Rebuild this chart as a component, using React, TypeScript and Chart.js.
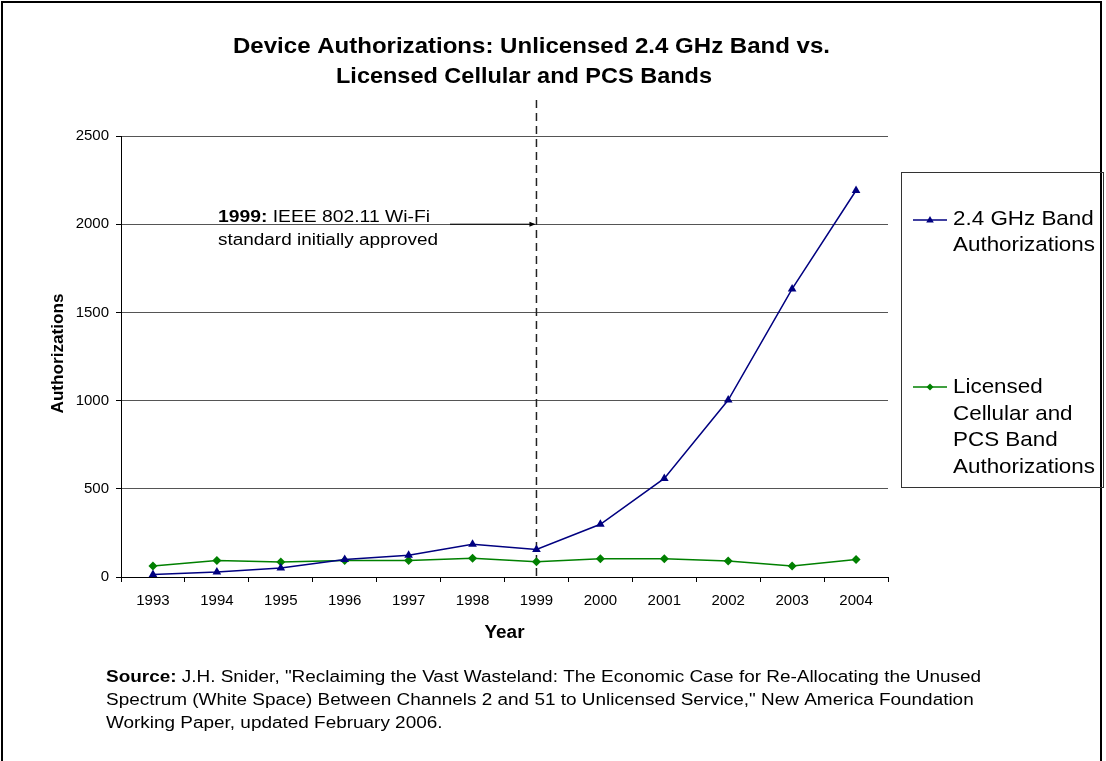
import React, { useEffect, useRef } from "react";
import { Chart, registerables } from "chart.js";

Chart.register(...registerables);

const FONT = "'Liberation Sans', Arial, Helvetica, sans-serif";

const years = ["1993", "1994", "1995", "1996", "1997", "1998", "1999", "2000", "2001", "2002", "2003", "2004"];
const wifiAuthorizations = [14, 28, 51, 99, 123, 186, 156, 299, 559, 1003, 1633, 2191];
const cellularAuthorizations = [62, 93, 85, 93, 93, 106, 87, 104, 104, 91, 62, 99];
const wifiLegendLines = ["2.4 GHz Band", "Authorizations"];
const cellularLegendLines = ["Licensed", "Cellular and", "PCS Band", "Authorizations"];
const titleLines = ["Device Authorizations: Unlicensed 2.4 GHz Band vs.", "Licensed Cellular and PCS Bands"];
const yAxisTitle = "Authorizations";
const xAxisTitle = "Year";
const yMax = 2500;
const yStep = 500;
const markerYear = "1999";
const annotationBold = "1999:";
const annotationLines = [" IEEE 802.11 Wi-Fi", "standard initially approved"];
const sourceBold = "Source:";
const sourceLines = [
  " J.H. Snider, \"Reclaiming the Vast Wasteland: The Economic Case for Re-Allocating the Unused",
  "Spectrum (White Space) Between Channels 2 and 51 to Unlicensed Service,\" New America Foundation",
  "Working Paper, updated February 2006.",
];

const BLUE = "#000080";
const GREEN = "#008000";

type Part = { text: string; bold?: boolean };

function measureParts(ctx: CanvasRenderingContext2D, parts: Part[], size: number) {
  let w = 0;
  for (const p of parts) {
    ctx.font = `${p.bold ? "bold " : ""}${size}px ${FONT}`;
    w += ctx.measureText(p.text).width;
  }
  return w;
}

function drawFitted(
  ctx: CanvasRenderingContext2D,
  parts: Part[],
  x: number,
  y: number,
  size: number,
  sx: number,
  align: "left" | "center" = "left"
) {
  const natural = measureParts(ctx, parts, size);
  const w = natural * sx;
  const x0 = align === "left" ? x : x - w / 2;
  ctx.save();
  ctx.translate(x0, y);
  ctx.scale(sx, 1);
  ctx.textAlign = "left";
  ctx.textBaseline = "alphabetic";
  ctx.fillStyle = "#000";
  let cx = 0;
  for (const p of parts) {
    ctx.font = `${p.bold ? "bold " : ""}${size}px ${FONT}`;
    ctx.fillText(p.text, cx, 0);
    cx += ctx.measureText(p.text).width;
  }
  ctx.restore();
}

function fitScale(ctx: CanvasRenderingContext2D, parts: Part[], size: number, target: number) {
  return target / measureParts(ctx, parts, size);
}

function drawTriangle(ctx: CanvasRenderingContext2D, x: number, y: number, r: number, color: string) {
  ctx.beginPath();
  ctx.moveTo(x, y - r);
  ctx.lineTo(x + r * 0.95, y + r * 0.6);
  ctx.lineTo(x - r * 0.95, y + r * 0.6);
  ctx.closePath();
  ctx.fillStyle = color;
  ctx.fill();
}

function drawDiamond(ctx: CanvasRenderingContext2D, x: number, y: number, r: number, color: string) {
  ctx.beginPath();
  ctx.moveTo(x, y - r);
  ctx.lineTo(x + r, y);
  ctx.lineTo(x, y + r);
  ctx.lineTo(x - r, y);
  ctx.closePath();
  ctx.fillStyle = color;
  ctx.fill();
}

const decorPlugin = {
  id: "decor",
  beforeDatasetsDraw(chart: any) {
    const ctx: CanvasRenderingContext2D = chart.ctx;
    const xs = chart.scales.x;
    const area = chart.chartArea;
    const px = xs.getPixelForValue(years.indexOf(markerYear));
    ctx.save();
    ctx.strokeStyle = "#222";
    ctx.lineWidth = 1.5;
    ctx.setLineDash([8, 5]);
    ctx.beginPath();
    ctx.moveTo(px, 100);
    ctx.lineTo(px, area.bottom);
    ctx.stroke();
    ctx.restore();
  },
  afterDraw(chart: any) {
    const ctx: CanvasRenderingContext2D = chart.ctx;
    const xs = chart.scales.x;
    const ys = chart.scales.y;
    const area = chart.chartArea;
    ctx.save();

    // outer frame
    ctx.strokeStyle = "#000";
    ctx.lineWidth = 2;
    ctx.strokeRect(2, 2, 1099, 820);

    // title
    const t1: Part[] = [{ text: titleLines[0], bold: true }];
    const t2: Part[] = [{ text: titleLines[1], bold: true }];
    drawFitted(ctx, t1, 531.5, 53, 22, fitScale(ctx, t1, 22, 597), "center");
    drawFitted(ctx, t2, 524, 83, 22, fitScale(ctx, t2, 22, 376), "center");

    // y axis title
    const ya: Part[] = [{ text: yAxisTitle, bold: true }];
    ctx.save();
    ctx.translate(63, (area.top + area.bottom) / 2 - 3);
    ctx.rotate(-Math.PI / 2);
    drawFitted(ctx, ya, 0, 0, 17, fitScale(ctx, ya, 17, 120), "center");
    ctx.restore();

    // x axis title
    const xa: Part[] = [{ text: xAxisTitle, bold: true }];
    drawFitted(ctx, xa, (area.left + area.right) / 2, 638, 18, fitScale(ctx, xa, 18, 40), "center");

    // legend box
    ctx.strokeStyle = "#333";
    ctx.lineWidth = 1;
    ctx.strokeRect(901.5, 172.5, 202, 315);
    const legSx = fitScale(ctx, [{ text: "Authorizations" }], 21, 142);
    ctx.strokeStyle = BLUE;
    ctx.lineWidth = 1.5;
    ctx.beginPath();
    ctx.moveTo(913, 220);
    ctx.lineTo(947, 220);
    ctx.stroke();
    drawTriangle(ctx, 930, 220, 4, BLUE);
    wifiLegendLines.forEach((l, i) => drawFitted(ctx, [{ text: l }], 953, 225 + i * 26, 21, legSx));
    ctx.strokeStyle = GREEN;
    ctx.beginPath();
    ctx.moveTo(913, 387);
    ctx.lineTo(947, 387);
    ctx.stroke();
    drawDiamond(ctx, 930, 387, 3.5, GREEN);
    cellularLegendLines.forEach((l, i) => drawFitted(ctx, [{ text: l }], 953, 393 + i * 26.7, 21, legSx));

    // annotation
    const a1: Part[] = [{ text: annotationBold, bold: true }, { text: annotationLines[0] }];
    const a2: Part[] = [{ text: annotationLines[1] }];
    drawFitted(ctx, a1, 218, 222, 16, fitScale(ctx, a1, 16, 212));
    drawFitted(ctx, a2, 218, 245, 16, fitScale(ctx, a2, 16, 220));
    const markerX = xs.getPixelForValue(years.indexOf(markerYear));
    const ay = ys.getPixelForValue(2000);
    ctx.strokeStyle = "#000";
    ctx.lineWidth = 1;
    ctx.setLineDash([]);
    ctx.beginPath();
    ctx.moveTo(450, ay);
    ctx.lineTo(markerX - 2, ay);
    ctx.stroke();
    ctx.beginPath();
    ctx.moveTo(markerX - 1, ay);
    ctx.lineTo(markerX - 7, ay - 2.5);
    ctx.lineTo(markerX - 7, ay + 2.5);
    ctx.closePath();
    ctx.fillStyle = "#000";
    ctx.fill();

    // source (one common horizontal scale for all lines)
    const s1: Part[] = [{ text: sourceBold, bold: true }, { text: sourceLines[0] }];
    const s2: Part[] = [{ text: sourceLines[1] }];
    const s3: Part[] = [{ text: sourceLines[2] }];
    const srcSx = fitScale(ctx, s1, 16, 875);
    drawFitted(ctx, s1, 106, 682, 16, srcSx);
    drawFitted(ctx, s2, 106, 705, 16, srcSx);
    drawFitted(ctx, s3, 106, 728, 16, srcSx);

    ctx.restore();
  },
};

export default function App() {
  const canvasRef = useRef<HTMLCanvasElement | null>(null);

  useEffect(() => {
    document.body.style.margin = "0";
    const canvas = canvasRef.current;
    if (!canvas) return;
    const chart = new Chart(canvas, {
      type: "line",
      data: {
        labels: years,
        datasets: [
          {
            label: wifiLegendLines.join(" "),
            data: wifiAuthorizations,
            borderColor: BLUE,
            backgroundColor: BLUE,
            borderWidth: 1.5,
            pointStyle: "triangle",
            pointRadius: 5,
            pointBorderWidth: 0,
            pointBackgroundColor: BLUE,
            tension: 0,
          },
          {
            label: cellularLegendLines.join(" "),
            data: cellularAuthorizations,
            borderColor: GREEN,
            backgroundColor: GREEN,
            borderWidth: 1.5,
            pointStyle: "rectRot",
            pointRadius: 4.5,
            pointBorderWidth: 0,
            pointBackgroundColor: GREEN,
            tension: 0,
          },
        ],
      },
      options: {
        animation: false,
        responsive: false,
        devicePixelRatio: 1,
        layout: { padding: { left: 61, right: 218, top: 136, bottom: 124 } },
        plugins: {
          legend: { display: false },
          title: { display: false },
          tooltip: { enabled: false },
        },
        scales: {
          x: {
            type: "category",
            offset: true,
            afterFit: (s: any) => {
              s.height = 60;
            },
            grid: {
              offset: true,
              drawOnChartArea: false,
              drawTicks: true,
              tickLength: 5,
              color: "#000",
            },
            border: { display: true, color: "#000", width: 1 },
            ticks: {
              color: "#000",
              font: { family: FONT, size: 15 },
              padding: 10,
              maxRotation: 0,
              autoSkip: false,
            },
          },
          y: {
            min: 0,
            max: yMax,
            afterFit: (s: any) => {
              s.width = 60;
            },
            grid: {
              color: "#555",
              lineWidth: 1,
              drawTicks: true,
              tickLength: 5,
              tickColor: "#000",
            },
            border: { display: true, color: "#000", width: 1 },
            ticks: {
              stepSize: yStep,
              color: "#000",
              font: { family: FONT, size: 15 },
              padding: 7,
              callback: (v: any) => String(v),
            },
          },
        },
      },
      plugins: [decorPlugin],
    });
    return () => chart.destroy();
  }, []);

  return (
    <div style={{ position: "relative", width: 1106, height: 761, background: "#fff" }}>
      <canvas ref={canvasRef} width={1106} height={761} style={{ display: "block" }} />
    </div>
  );
}
